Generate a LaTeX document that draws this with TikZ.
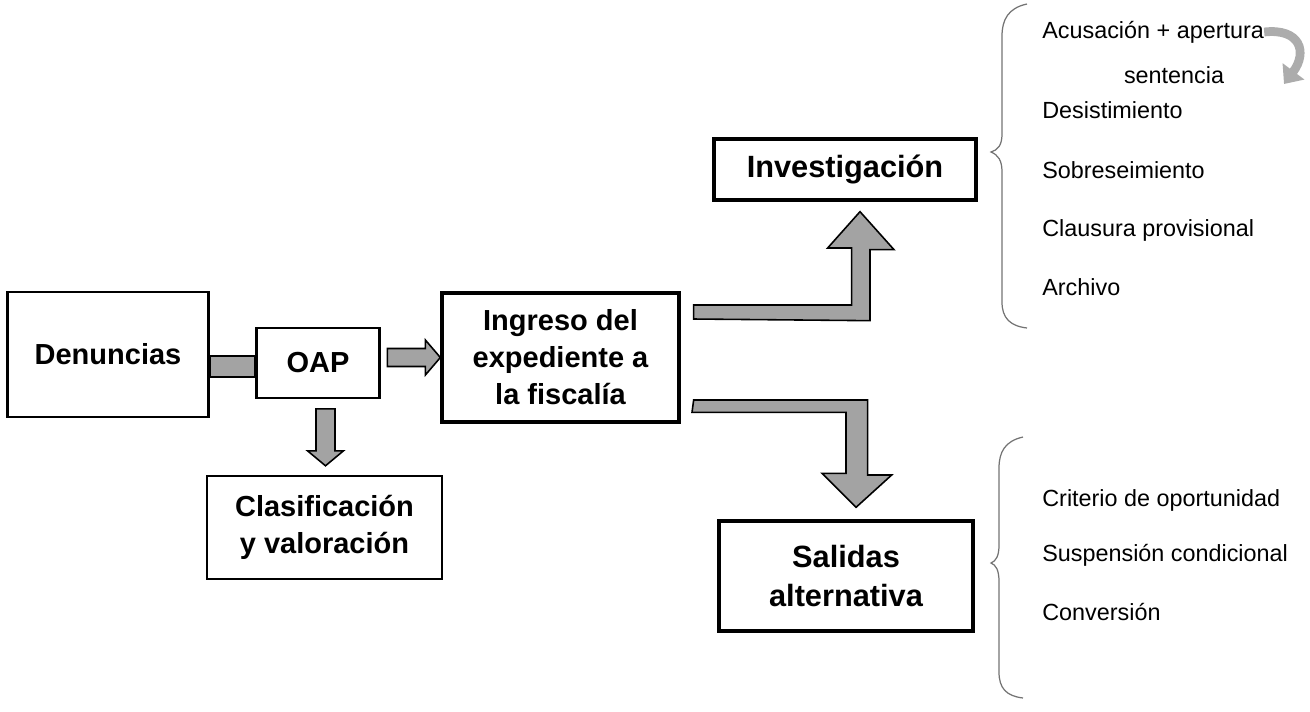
\documentclass[tikz,border=0pt]{standalone}
\usepackage{fontspec}
\setmainfont{Liberation Sans}
\usetikzlibrary{calc, arrows.meta}

\begin{document}
\begin{tikzpicture}[x=0.02cm, y=-0.02cm,
  main box/.style={draw, line width=1.4pt, align=center, inner sep=0pt, font=\bfseries\fontsize{16.5}{21}\selectfont},
  big box/.style={main box, line width=1.9pt, font=\bfseries\fontsize{17.5}{22}\selectfont},
  blk arrow/.style={draw=black, line width=0.9pt, fill=gray!72, line join=miter},
  curv arrow/.style={draw=gray!65, line width=5pt, -{Triangle[length=9pt,width=15pt]}},
  item/.style={anchor=west, inner sep=0pt, font=\fontsize{13.3}{16}\selectfont},
  brace line/.style={draw=black!55, line width=0.7pt}]
\useasboundingbox (0,0) rectangle (1310,711);

% boxes
\node[main box, minimum width=4.02cm, minimum height=2.5cm] (den) at (108,354.5) {Denuncias};
\node[main box, minimum width=2.46cm, minimum height=1.4cm] (oap) at (318,363) {OAP};
\node[big box, font=\bfseries\fontsize{16.5}{21}\selectfont, minimum width=4.74cm, minimum height=2.58cm] (ing) at (560.5,357.5) {Ingreso del\\expediente a\\la fiscalía};
\node[main box, minimum width=4.7cm, minimum height=2.06cm] (cla) at (324.5,527.5) {Clasificación\\y valoración};
\node[big box, minimum width=5.24cm, minimum height=1.22cm] (inv) at (845,169.5) {Investigación};
\node[big box, minimum width=5.08cm, minimum height=2.2cm] (sal) at (846,576) {Salidas\\alternativa};

% block arrows
\draw[blk arrow] ($(den.east)+(0,1.5)$) rectangle ($(oap.west)+(0,14)$);
\draw[blk arrow] (ing.west) -- ++(-15,-17.5) -- ++(0,8.5) -- ++(-38,0) -- ++(0,18) -- ++(38,0) -- ++(0,8.5) -- cycle;
\draw[blk arrow] ($(cla.north)+(1,-9)$) -- ++(-18,-15) -- ++(8.5,0) -- ++(0,-42) -- ++(19,0) -- ++(0,42) -- ++(8.5,0) -- cycle;
\draw[blk arrow] ($(ing.east)+(13,-38.5)$) -- ++(0,-14) -- ++(158,0) -- ++(0,-57) -- ++(-24,0)
  -- ($(inv.south)+(15,10)$) -- ++(34,38) -- ++(-24,0) -- ++(0,71) -- cycle;
\draw[blk arrow] ($(ing.east)+(13,42.5)$) -- ++(174,0) -- ++(0,75) -- ++(24,0)
  -- ($(sal.north)+(10,-12)$) -- ++(-34,-34) -- ++(24,0) -- ++(0,-61) -- ++(-154,0) -- cycle;

% outcomes of the investigation
\node[item] (acu) at (1042,32) {Acusación + apertura};
\node[item, anchor=center] (sen) at (1174,75) {sentencia};
\node[item] (des) at (1042,110) {Desistimiento};
\node[item] (sob) at (1042,170) {Sobreseimiento};
\node[item] (clp) at (1042,230) {Clausura provisional};
\node[item] (arc) at (1042,287) {Archivo};
\coordinate (cend) at (1284,84);
\draw[curv arrow] (acu.east) .. controls (1300,28) and (1308,52) .. (cend);

% alternative outcomes
\node[item] (cri) at (1042,500) {Criterio de oportunidad};
\node[item] (sus) at (1042,555) {Suspensión condicional};
\node[item] (con) at (1042,612) {Conversión};

% braces
\draw[brace line] (1027,4) .. controls (1008,8) and (1002,20) .. (1002,36) -- (1002,134)
  .. controls (1002,145) and (998,150) .. (991,152) .. controls (998,155) and (1002,160) .. (1002,172)
  -- (1002,302) .. controls (1002,318) and (1010,326) .. (1027,328);
\draw[brace line] (1023,437) .. controls (1005,441) and (999,452) .. (999,468) -- (999,545)
  .. controls (999,556) and (996,561) .. (991,563) .. controls (996,565) and (999,570) .. (999,582)
  -- (999,672) .. controls (999,688) and (1006,696) .. (1023,698);
\end{tikzpicture}
\end{document}
